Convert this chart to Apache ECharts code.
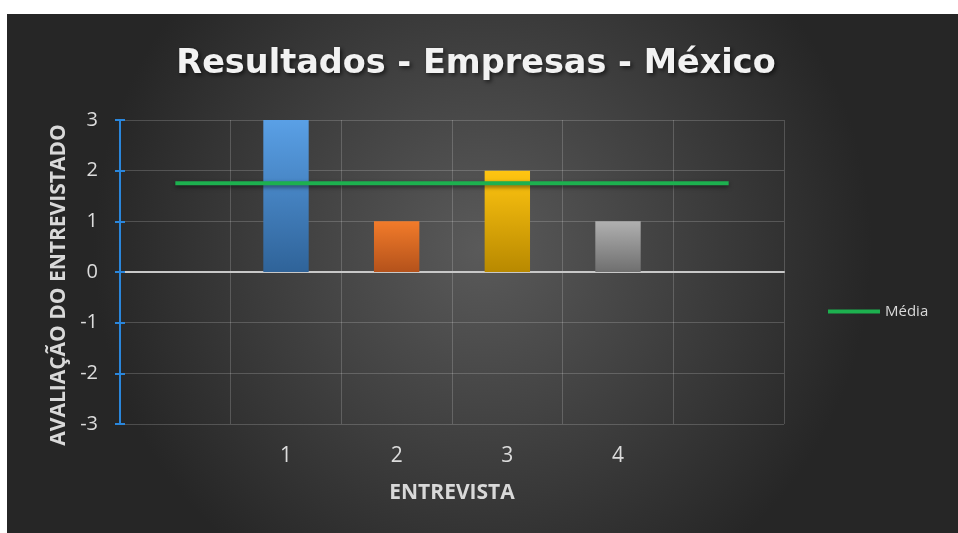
<!DOCTYPE html>
<html>
<head>
<meta charset="utf-8">
<script src="https://cdn.jsdelivr.net/npm/echarts@6/dist/echarts.min.js"></script>
<style>
  html, body { margin: 0; padding: 0; background: #ffffff; }
  #chart { position: absolute; left: 7px; top: 14px; width: 951px; height: 519px; }
</style>
</head>
<body>
<div id="chart"></div>
<script>
// Interview categories (outer slots left empty so the average line spans the full width)
const categories = ['', '1', '2', '3', '4', ''];
// Evaluation score of each interview
const scores = [null, 3, 1, 2, 1, null];
// Average score, drawn across every slot
const average = [1.75, 1.75, 1.75, 1.75, 1.75, 1.75];
// Value axis range and step
const yMin = -3, yMax = 3, yStep = 1;

// Gradient colours per interview bar: [top, bottom]
const barColors = [
  null,
  ['#5aa0e6', '#2f6399'],
  ['#f27b2a', '#b4521b'],
  ['#ffc511', '#b88900'],
  ['#b0b0b0', '#6f6f6f'],
  null
];

const chart = echarts.init(document.getElementById('chart'));
const labelFont = 'Open Sans, Noto Sans, sans-serif';
const axisBlue = '#2a86db';
const gridRect = { left: 113, right: 174, top: 106, bottom: 109, containLabel: false };

chart.setOption({
  backgroundColor: {
    type: 'radial', x: 0.5, y: 0.45, r: 0.75,
    colorStops: [
      { offset: 0, color: '#5a5a5a' },
      { offset: 1, color: '#262626' }
    ]
  },
  title: {
    text: 'Resultados - Empresas - México',
    left: 464,
    textAlign: 'center',
    top: 28,
    textStyle: {
      color: '#f2f2f2',
      fontFamily: 'DejaVu Sans, sans-serif',
      fontWeight: 'bold',
      fontSize: 33.5,
      textShadowColor: 'rgba(0,0,0,0.6)',
      textShadowBlur: 4,
      textShadowOffsetX: 2,
      textShadowOffsetY: 2
    }
  },
  legend: {
    data: [{ name: 'Média', icon: 'rect' }],
    left: 821,
    top: 290,
    padding: 0,
    itemWidth: 52,
    itemHeight: 4,
    textStyle: { color: '#d9d9d9', fontFamily: labelFont, fontSize: 15 }
  },
  grid: [gridRect, Object.assign({}, gridRect)],
  xAxis: [
    {
      type: 'category',
      gridIndex: 0,
      data: categories,
      boundaryGap: true,
      name: 'ENTREVISTA',
      nameLocation: 'middle',
      nameGap: 59,
      nameTextStyle: { color: '#d9d9d9', fontFamily: labelFont, fontWeight: 'bold', fontSize: 21 },
      axisLine: { onZero: true, lineStyle: { color: '#c8c8c8', width: 2 } },
      axisTick: { show: false },
      axisLabel: { color: '#dcdcdc', fontFamily: labelFont, fontSize: 21, margin: 22 },
      splitLine: { show: true, lineStyle: { color: 'rgba(255,255,255,0.18)', width: 1 } }
    },
    {
      // helper axis for the inner tick marks grid
      type: 'category',
      gridIndex: 1,
      data: categories,
      show: false
    }
  ],
  yAxis: [
    {
      type: 'value',
      gridIndex: 0,
      min: yMin, max: yMax, interval: yStep,
      name: 'AVALIAÇÃO DO ENTREVISTADO',
      nameLocation: 'middle',
      nameGap: 50,
      nameTextStyle: {
        color: '#d9d9d9', fontFamily: labelFont, fontWeight: 'bold', fontSize: 21,
        padding: [0, 26, 0, 0]
      },
      axisLine: { show: true, lineStyle: { color: axisBlue, width: 2 } },
      axisTick: { show: true, length: 5, lineStyle: { color: axisBlue, width: 2 } },
      axisLabel: { color: '#dcdcdc', fontFamily: labelFont, fontSize: 20, margin: 22 },
      splitLine: { show: true, lineStyle: { color: 'rgba(255,255,255,0.18)', width: 1 } }
    },
    {
      // inner half of the crossing tick marks
      type: 'value',
      gridIndex: 1,
      position: 'left',
      min: yMin, max: yMax, interval: yStep,
      axisLine: { show: false },
      axisTick: { show: true, inside: true, length: 5, lineStyle: { color: axisBlue, width: 2 } },
      axisLabel: { show: false },
      splitLine: { show: false }
    }
  ],
  series: [
    {
      name: 'Entrevista',
      type: 'bar',
      barWidth: '41%',
      data: scores.map((v, i) => v === null ? null : {
        value: v,
        itemStyle: {
          color: {
            type: 'linear', x: 0, y: 0, x2: 0, y2: 1,
            colorStops: [
              { offset: 0, color: barColors[i][0] },
              { offset: 1, color: barColors[i][1] }
            ]
          },
          shadowColor: 'rgba(0,0,0,0.55)',
          shadowBlur: 6,
          shadowOffsetX: 2,
          shadowOffsetY: 3
        }
      }),
      z: 2
    },
    {
      name: 'Média',
      type: 'line',
      data: average,
      symbol: 'none',
      lineStyle: {
        color: '#1db04f', width: 4,
        shadowColor: 'rgba(0,0,0,0.5)', shadowBlur: 4, shadowOffsetY: 2
      },
      itemStyle: { color: '#1db04f' },
      z: 3
    }
  ]
});
</script>
</body>
</html>
